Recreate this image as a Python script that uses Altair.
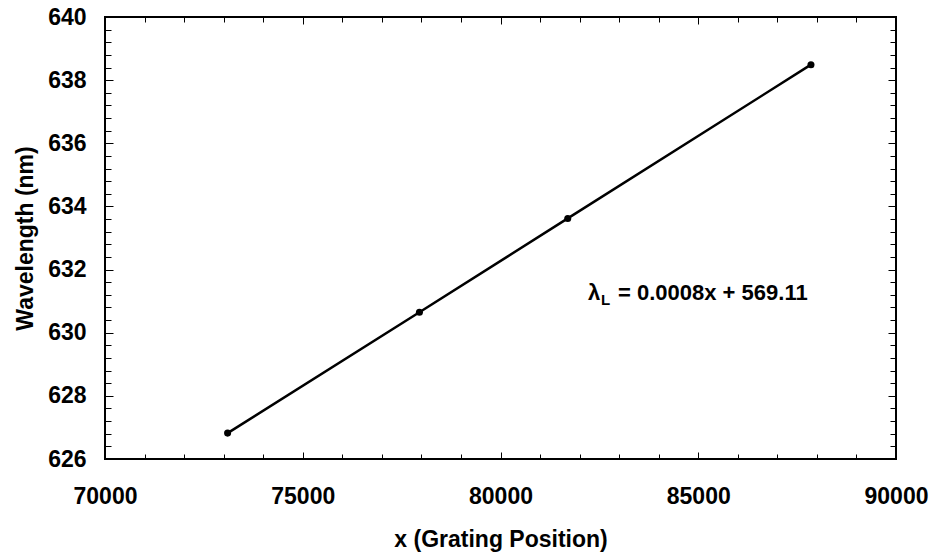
import altair as alt
import pandas as pd

# ---- data ----
grating_x = [73100, 77950, 81700, 87850]
wavelength = [626.82, 630.65, 633.62, 638.49]

x_major = [70000, 75000, 80000, 85000, 90000]
x_minor = list(range(70000, 90001, 1000))
y_major = [626, 628, 630, 632, 634, 636, 638, 640]
y_minor = [round(626 + 0.4 * i, 1) for i in range(36)]

eq_anchor_x = [82213]
eq_anchor_y = [631.04]
eq_lambda = ["λ"]
eq_sub = ["L"]
eq_rest = ["= 0.0008x + 569.11"]

df = pd.DataFrame({"x": grating_x, "wl": wavelength})
eq_df = pd.DataFrame({"x": eq_anchor_x, "wl": eq_anchor_y,
                      "lam": eq_lambda, "sub": eq_sub, "rest": eq_rest})

W, H = 791, 442
FONT = "Liberation Sans"

x_scale = alt.Scale(domain=[70000, 90000], nice=False, zero=False)
y_scale = alt.Scale(domain=[626, 640], nice=False, zero=False)

font_opts = dict(labelFont=FONT, labelFontSize=23, labelFontWeight="bold", labelColor="black",
                 titleFont=FONT, titleFontSize=23, titleFontWeight="bold", titleColor="black")

base = alt.Chart(df)

# main line with labelled axes (no ticks: ticks are drawn inward by other axes)
line = base.mark_line(color="black", strokeWidth=2.5).encode(
    x=alt.X("x:Q", scale=x_scale,
            axis=alt.Axis(orient="bottom", title="x (Grating Position)", values=x_major,
                          format="d", ticks=False, tickSize=0, domain=False, grid=False,
                          labelFlush=False, labelOverlap=False,
                          labelPadding=26, titlePadding=20, **font_opts)),
    y=alt.Y("wl:Q", scale=y_scale,
            axis=alt.Axis(orient="left", title="Wavelength (nm)", values=y_major,
                          format="d", ticks=False, tickSize=0, domain=False, grid=False,
                          labelFlush=False, labelOverlap=False,
                          labelPadding=19, titlePadding=10, **font_opts)),
)

points = base.mark_circle(size=50, color="black", opacity=1).encode(
    x=alt.X("x:Q", scale=x_scale, axis=None),
    y=alt.Y("wl:Q", scale=y_scale, axis=None),
)


def tick_layer(xorient, yorient, xvals, yvals, xsize, ysize):
    return base.mark_point(opacity=0).encode(
        x=alt.X("x:Q", scale=x_scale,
                axis=alt.Axis(orient=xorient, offset=-H, values=xvals, tickSize=xsize,
                              labels=False, domain=False, grid=False, title=None,
                              tickColor="black", tickWidth=1)),
        y=alt.Y("wl:Q", scale=y_scale,
                axis=alt.Axis(orient=yorient, offset=-W, values=yvals, tickSize=ysize,
                              labels=False, domain=False, grid=False, title=None,
                              tickColor="black", tickWidth=1)),
    )


t_minor_a = tick_layer("top", "right", x_minor, y_minor, 5, 6)
t_minor_b = tick_layer("bottom", "left", x_minor, y_minor, 5, 6)
t_major_a = tick_layer("top", "right", x_major, y_major, 7, 8)
t_major_b = tick_layer("bottom", "left", x_major, y_major, 7, 8)

eq_base = alt.Chart(eq_df)
txt_common = dict(font=FONT, fontWeight="bold", color="black", align="left",
                  baseline="alphabetic")
eq1 = eq_base.mark_text(fontSize=22, **txt_common).encode(
    x=alt.X("x:Q", scale=x_scale, axis=None),
    y=alt.Y("wl:Q", scale=y_scale, axis=None), text="lam:N")
eq2 = eq_base.mark_text(fontSize=15, dx=13, dy=5, **txt_common).encode(
    x=alt.X("x:Q", scale=x_scale, axis=None),
    y=alt.Y("wl:Q", scale=y_scale, axis=None), text="sub:N")
eq3 = eq_base.mark_text(fontSize=22, dx=30, **txt_common).encode(
    x=alt.X("x:Q", scale=x_scale, axis=None),
    y=alt.Y("wl:Q", scale=y_scale, axis=None), text="rest:N")

chart = alt.layer(
    line, t_minor_a, t_minor_b, t_major_a, t_major_b, points, eq1, eq2, eq3
).resolve_axis(x="independent", y="independent").properties(
    width=W, height=H,
    autosize=alt.AutoSizeParams(type="none"),
    padding={"left": 105, "top": 17, "right": 36, "bottom": 94},
    background="white",
).configure_view(
    stroke="black", strokeWidth=2
)

chart.save("out.html", embed_options={"renderer": "svg", "actions": False})
